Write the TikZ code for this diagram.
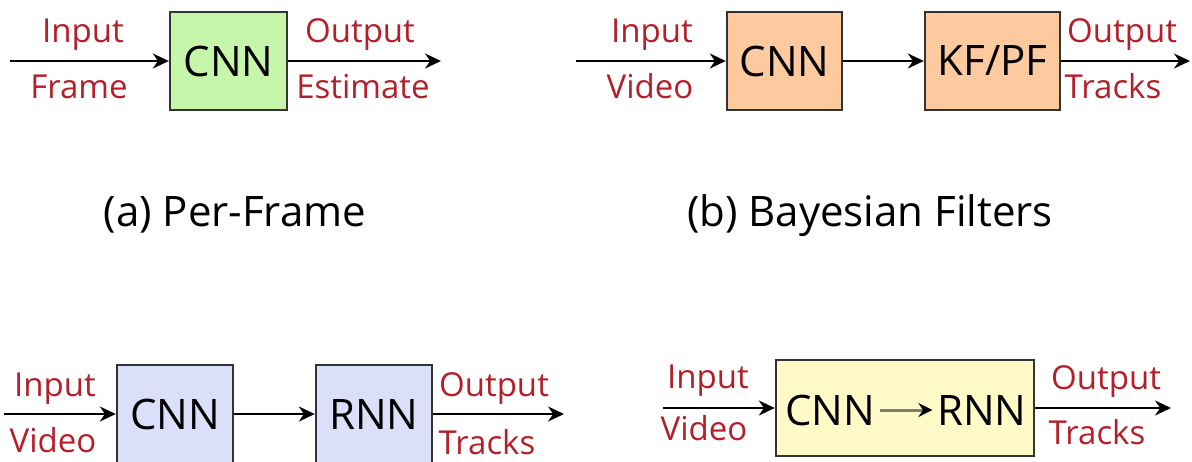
\documentclass[tikz,border=0pt]{standalone}
\usepackage{fontspec}
\setmainfont{Open Sans}
\usetikzlibrary{arrows.meta}

\definecolor{boxline}{HTML}{333333}
\definecolor{labelred}{HTML}{B3202A}
\definecolor{cnngreen}{HTML}{C6F6AA}
\definecolor{bayesorange}{HTML}{FDCAA0}
\definecolor{rnnblue}{HTML}{DCDFFA}
\definecolor{jointyellow}{HTML}{FFFAC6}
\definecolor{innerarrow}{HTML}{7E7E6A}

\tikzset{every picture/.style={line width=1pt},
  blockbox/.style={draw=boxline, line width=1.2pt, minimum height=49pt, inner sep=0pt, font=\fontsize{21}{24}\selectfont},
  blocktext/.style={inner sep=0pt, font=\fontsize{21}{24}\selectfont},
  flow/.style={-{Stealth[length=8pt,width=7.5pt]}},
  lbl/.style={text=labelred, anchor=base, inner sep=0pt, font=\fontsize{16.5}{19}\selectfont},
  subcap/.style={anchor=base, inner sep=0pt, font=\fontsize{21}{24}\selectfont}}

\begin{document}
\begin{tikzpicture}[x=0.5pt,y=0.5pt,yscale=-1,xscale=1]
\path[use as bounding box] (0,0) rectangle (1192,461);

% (a) per-frame
\coordinate (inA) at (10,61);
\node[blockbox, fill=cnngreen, minimum width=58.5pt] (cnnA) at (228.5,61) {CNN};
\coordinate (outA) at (441,61);
\draw[flow] (inA) -- (cnnA);
\draw[flow] (cnnA) -- (outA);
\node[lbl] (inAtop) at (83,42) {Input};
\node[lbl] (inAbot) at (79,98) {Frame};
\node[lbl] (outAtop) at (360,42) {Output};
\node[lbl] (outAbot) at (363,98) {Estimate};
\node[subcap] (capA) at (235,226) {(a) Per-Frame};

% (b) bayesian filters
\coordinate (inB) at (576,61);
\node[blockbox, fill=bayesorange, minimum width=57.5pt] (cnnB) at (784.5,61) {CNN};
\node[blockbox, fill=bayesorange, minimum width=67.5pt] (kfB) at (992.5,61) {KF/PF};
\coordinate (outB) at (1190,61);
\draw[flow] (inB) -- (cnnB);
\draw[flow] (cnnB) -- (kfB);
\draw[flow] (kfB) -- (outB);
\node[lbl] (inBtop) at (652,42) {Input};
\node[lbl] (inBbot) at (650,98) {Video};
\node[lbl] (outBtop) at (1122,42) {Output};
\node[lbl] (outBbot) at (1113,98) {Tracks};
\node[subcap] (capB) at (870,226) {(b) Bayesian Filters};

% (c) cnn then rnn
\coordinate (inC) at (4,414);
\node[blockbox, fill=rnnblue, minimum width=58pt] (cnnC) at (175,414) {CNN};
\node[blockbox, fill=rnnblue, minimum width=58pt] (rnnC) at (374,414) {RNN};
\coordinate (outC) at (564,414);
\draw[flow] (inC) -- (cnnC);
\draw[flow] (cnnC) -- (rnnC);
\draw[flow] (rnnC) -- (outC);
\node[lbl] (inCtop) at (55,396) {Input};
\node[lbl] (inCbot) at (53,452) {Video};
\node[lbl] (outCtop) at (494,396) {Output};
\node[lbl] (outCbot) at (487,454) {Tracks};

% (d) joint cnn-rnn
\coordinate (inD) at (663,408);
\node[blockbox, fill=jointyellow, minimum width=129pt, minimum height=48pt] (jointD) at (905,408) {};
\node[blocktext] (cnnD) at (830,410) {CNN};
\node[blocktext] (rnnD) at (982,410) {RNN};
\coordinate (outD) at (1171,408);
\draw[flow] (inD) -- (jointD);
\draw[flow] (jointD) -- (outD);
\draw[-{Stealth[length=7pt,width=7pt,black]}, draw=innerarrow, line width=1.5pt, shorten <=2pt, shorten >=2pt] (cnnD) -- (rnnD);
\node[lbl] (inDtop) at (708,388) {Input};
\node[lbl] (inDbot) at (704,440) {Video};
\node[lbl] (outDtop) at (1106,389) {Output};
\node[lbl] (outDbot) at (1097,444) {Tracks};
\end{tikzpicture}
\end{document}
